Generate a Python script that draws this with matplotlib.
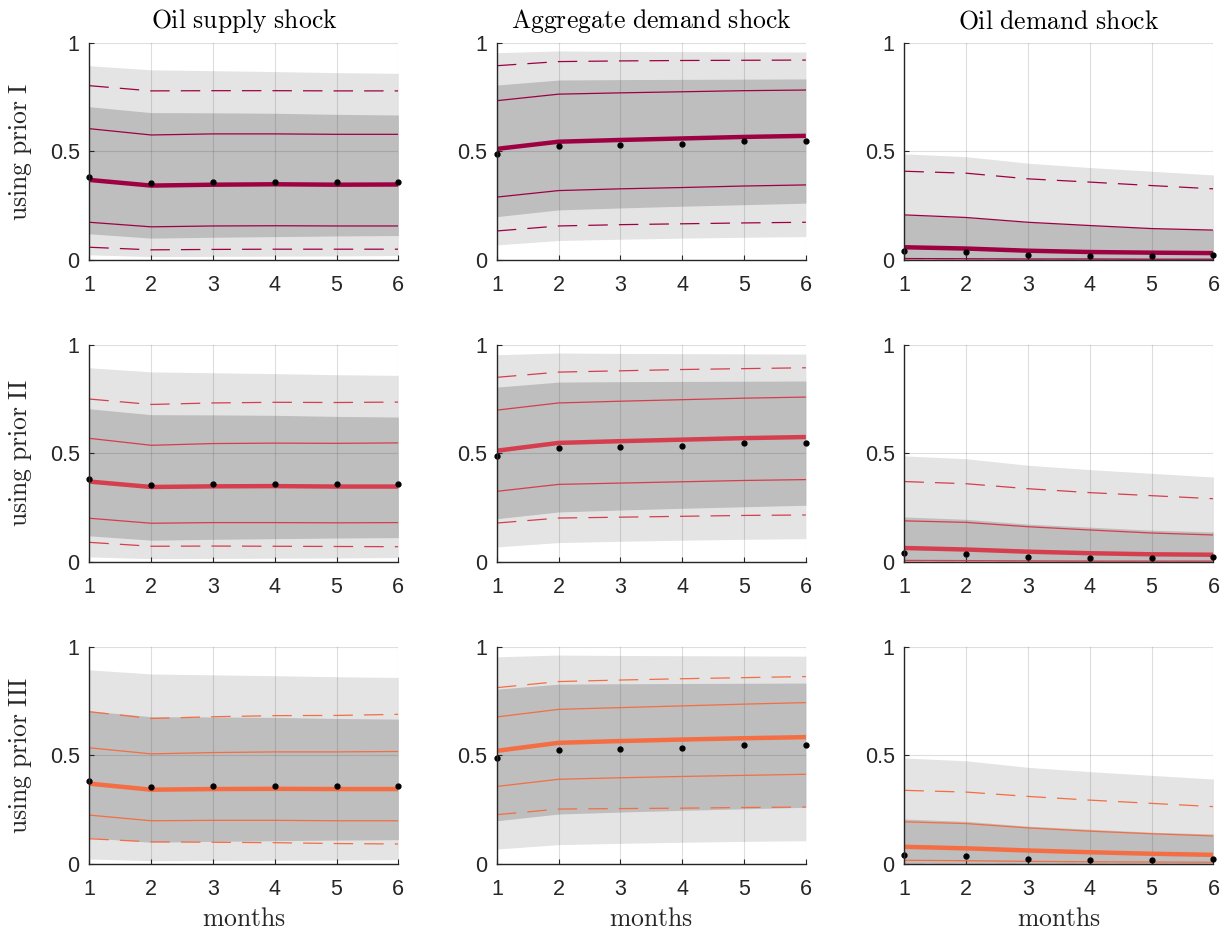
import matplotlib
matplotlib.use("Agg")
import matplotlib.pyplot as plt

months = [1, 2, 3, 4, 5, 6]
shock_titles = ["Oil supply shock", "Aggregate demand shock", "Oil demand shock"]
prior_labels = ["using prior I", "using prior II", "using prior III"]
prior_colors = ["#9E0142", "#D53E4F", "#F46D43"]

# gray bands, same for every prior: [outer_lo, inner_lo, inner_hi, outer_hi]
supply_bands = [
    [0.023, 0.015, 0.016, 0.017, 0.018, 0.020],
    [0.120, 0.100, 0.104, 0.107, 0.110, 0.112],
    [0.705, 0.678, 0.677, 0.675, 0.670, 0.667],
    [0.894, 0.875, 0.871, 0.867, 0.862, 0.859],
]
demand_bands = [
    [0.069, 0.089, 0.095, 0.100, 0.104, 0.107],
    [0.199, 0.230, 0.239, 0.247, 0.254, 0.261],
    [0.805, 0.828, 0.830, 0.831, 0.832, 0.833],
    [0.954, 0.962, 0.960, 0.959, 0.958, 0.957],
]
oil_demand_bands = [
    [0.000, 0.000, 0.000, 0.000, 0.000, 0.000],
    [0.003, 0.003, 0.002, 0.002, 0.002, 0.002],
    [0.207, 0.196, 0.174, 0.160, 0.146, 0.138],
    [0.488, 0.475, 0.445, 0.425, 0.408, 0.391],
]

# true values (black dots)
supply_true = [0.381, 0.353, 0.359, 0.359, 0.357, 0.358]
demand_true = [0.488, 0.523, 0.528, 0.535, 0.546, 0.549]
oil_demand_true = [0.039, 0.035, 0.024, 0.019, 0.018, 0.022]

# estimates per prior: [dashed_lo, solid_lo, median, solid_hi, dashed_hi]
supply_prior1 = [
    [0.058, 0.046, 0.048, 0.049, 0.049, 0.049],
    [0.173, 0.152, 0.156, 0.157, 0.156, 0.156],
    [0.368, 0.342, 0.346, 0.348, 0.346, 0.347],
    [0.604, 0.575, 0.580, 0.580, 0.578, 0.578],
    [0.802, 0.778, 0.779, 0.779, 0.778, 0.778],
]
supply_prior2 = [
    [0.090, 0.072, 0.073, 0.072, 0.071, 0.070],
    [0.201, 0.178, 0.181, 0.181, 0.180, 0.181],
    [0.370, 0.345, 0.348, 0.349, 0.347, 0.347],
    [0.569, 0.537, 0.545, 0.547, 0.546, 0.548],
    [0.750, 0.725, 0.732, 0.735, 0.734, 0.736],
]
supply_prior3 = [
    [0.116, 0.102, 0.100, 0.098, 0.094, 0.092],
    [0.225, 0.199, 0.201, 0.201, 0.199, 0.199],
    [0.370, 0.342, 0.345, 0.346, 0.345, 0.345],
    [0.535, 0.507, 0.513, 0.516, 0.516, 0.518],
    [0.701, 0.670, 0.678, 0.683, 0.684, 0.689],
]
demand_prior1 = [
    [0.133, 0.156, 0.162, 0.166, 0.170, 0.173],
    [0.289, 0.319, 0.327, 0.333, 0.340, 0.345],
    [0.511, 0.544, 0.552, 0.559, 0.566, 0.571],
    [0.733, 0.763, 0.769, 0.774, 0.779, 0.782],
    [0.894, 0.913, 0.916, 0.918, 0.919, 0.920],
]
demand_prior2 = [
    [0.179, 0.202, 0.206, 0.210, 0.214, 0.216],
    [0.325, 0.357, 0.363, 0.369, 0.375, 0.379],
    [0.512, 0.548, 0.556, 0.563, 0.570, 0.575],
    [0.699, 0.732, 0.740, 0.747, 0.754, 0.759],
    [0.850, 0.874, 0.880, 0.886, 0.890, 0.894],
]
demand_prior3 = [
    [0.227, 0.253, 0.255, 0.257, 0.260, 0.262],
    [0.357, 0.390, 0.397, 0.403, 0.408, 0.413],
    [0.521, 0.558, 0.566, 0.573, 0.579, 0.584],
    [0.677, 0.712, 0.720, 0.728, 0.736, 0.743],
    [0.812, 0.840, 0.847, 0.853, 0.858, 0.863],
]
oil_demand_prior1 = [
    [0.001, 0.001, 0.001, 0.001, 0.001, 0.001],
    [0.006, 0.005, 0.004, 0.004, 0.003, 0.003],
    [0.058, 0.052, 0.042, 0.036, 0.033, 0.031],
    [0.207, 0.195, 0.173, 0.158, 0.144, 0.137],
    [0.408, 0.399, 0.373, 0.358, 0.342, 0.327],
]
oil_demand_prior2 = [
    [0.001, 0.001, 0.001, 0.001, 0.001, 0.001],
    [0.007, 0.006, 0.005, 0.004, 0.004, 0.004],
    [0.064, 0.057, 0.047, 0.040, 0.035, 0.033],
    [0.189, 0.182, 0.162, 0.147, 0.133, 0.124],
    [0.370, 0.360, 0.337, 0.319, 0.305, 0.291],
]
oil_demand_prior3 = [
    [0.002, 0.002, 0.002, 0.002, 0.002, 0.002],
    [0.017, 0.015, 0.012, 0.010, 0.009, 0.008],
    [0.079, 0.072, 0.062, 0.054, 0.047, 0.042],
    [0.194, 0.186, 0.166, 0.151, 0.139, 0.129],
    [0.339, 0.331, 0.311, 0.294, 0.279, 0.264],
]

bands = [supply_bands, demand_bands, oil_demand_bands]
truths = [supply_true, demand_true, oil_demand_true]
estimates = [
    [supply_prior1, demand_prior1, oil_demand_prior1],
    [supply_prior2, demand_prior2, oil_demand_prior2],
    [supply_prior3, demand_prior3, oil_demand_prior3],
]

plt.rcParams["font.family"] = ["Liberation Sans", "DejaVu Sans"]
plt.rcParams["mathtext.fontset"] = "cm"
plt.rcParams["lines.scale_dashes"] = False

axis_color = "#262626"
label_size = 18.5


def serif(text: str) -> str:
    return r"$\mathrm{" + text.replace(" ", r"\ ") + "}$"


fig, axes = plt.subplots(3, 3, figsize=(12.29, 9.32), dpi=100)
fig.subplots_adjust(left=0.0727, right=0.9873, top=0.9542, bottom=0.0730, wspace=0.319, hspace=0.391)

for row in range(3):
    for col in range(3):
        ax = axes[row, col]
        outer_lo, inner_lo, inner_hi, outer_hi = bands[col]
        ax.fill_between(months, outer_lo, outer_hi, color="#E4E4E4", linewidth=0, zorder=1)
        ax.fill_between(months, inner_lo, inner_hi, color="#BEBEBE", linewidth=0, zorder=1.1)

        dashed_lo, solid_lo, median, solid_hi, dashed_hi = estimates[row][col]
        color = prior_colors[row]
        for series in (dashed_lo, dashed_hi):
            ax.plot(months, series, color=color, linewidth=0.9, linestyle=(0, (14, 8)), zorder=2)
        for series in (solid_lo, solid_hi):
            ax.plot(months, series, color=color, linewidth=0.9, zorder=2)
        ax.plot(months, median, color=color, linewidth=3.2, solid_capstyle="butt", zorder=3)
        ax.plot(months, truths[col], linestyle="none", marker="o", markersize=3.5,
                color="black", zorder=4, clip_on=False)

        ax.set_xlim(1, 6)
        ax.set_ylim(0, 1)
        ax.set_xticks(months)
        ax.set_yticks([0, 0.5, 1])
        ax.set_yticklabels(["0", "0.5", "1"])
        ax.set_axisbelow("line")
        ax.grid(True, color=axis_color, alpha=0.15, linewidth=0.8)
        ax.tick_params(direction="in", length=3.5, width=0.8, colors=axis_color,
                       labelsize=15.5, labelcolor=axis_color)
        ax.tick_params(axis="x", pad=11)
        ax.tick_params(axis="y", pad=7)
        for side in ("top", "right"):
            ax.spines[side].set_visible(False)
        for side in ("left", "bottom"):
            ax.spines[side].set_color(axis_color)
            ax.spines[side].set_linewidth(1.0)
            ax.spines[side].set_zorder(5)

        if row == 0:
            ax.set_title(serif(shock_titles[col]), fontsize=label_size, pad=10.5, color="black")
        if col == 0:
            ax.set_ylabel(serif(prior_labels[row]), fontsize=label_size, color=axis_color)
            ax.yaxis.set_label_coords(-0.18, 0.5)
        if row == 2:
            ax.set_xlabel(serif("months"), fontsize=label_size, color=axis_color)
            ax.xaxis.set_label_coords(0.5, -0.2)

fig.savefig("out.png", dpi=100)
